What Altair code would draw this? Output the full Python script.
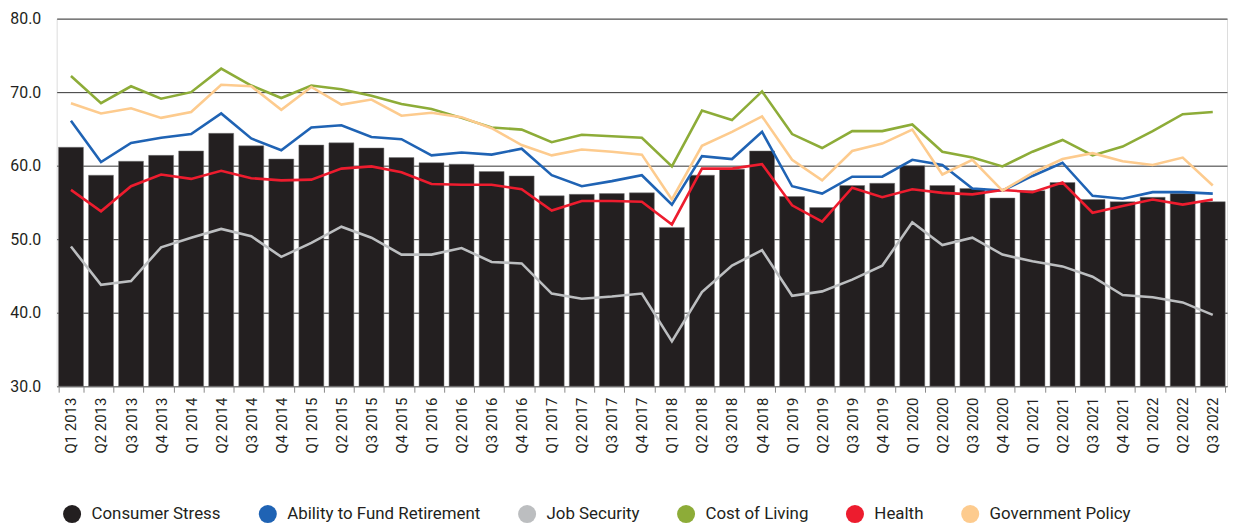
import altair as alt
import pandas as pd

quarters = [
    "Q1 2013", "Q2 2013", "Q3 2013", "Q4 2013",
    "Q1 2014", "Q2 2014", "Q3 2014", "Q4 2014",
    "Q1 2015", "Q2 2015", "Q3 2015", "Q4 2015",
    "Q1 2016", "Q2 2016", "Q3 2016", "Q4 2016",
    "Q1 2017", "Q2 2017", "Q3 2017", "Q4 2017",
    "Q1 2018", "Q2 2018", "Q3 2018", "Q4 2018",
    "Q1 2019", "Q2 2019", "Q3 2019", "Q4 2019",
    "Q1 2020", "Q2 2020", "Q3 2020", "Q4 2020",
    "Q1 2021", "Q2 2021", "Q3 2021", "Q4 2021",
    "Q1 2022", "Q2 2022", "Q3 2022",
]

consumer_stress = [62.5, 58.7, 60.6, 61.4, 62.0, 64.4, 62.7, 60.9, 62.8, 63.1, 62.4, 61.1,
                   60.4, 60.2, 59.2, 58.6, 55.9, 56.1, 56.2, 56.3, 51.6, 58.7, 59.5, 62.0,
                   55.8, 54.3, 57.3, 57.6, 60.0, 57.3, 56.9, 55.6, 56.6, 57.7, 55.4, 55.1,
                   55.7, 56.2, 55.1]
retirement = [66.1, 60.5, 63.1, 63.8, 64.3, 67.1, 63.7, 62.1, 65.2, 65.5, 63.9, 63.6,
              61.4, 61.8, 61.5, 62.3, 58.7, 57.2, 57.9, 58.7, 54.7, 61.3, 60.9, 64.6,
              57.2, 56.2, 58.5, 58.5, 60.8, 60.1, 56.9, 56.6, 58.6, 60.4, 55.9, 55.5,
              56.4, 56.4, 56.2]
job_security = [49.0, 43.8, 44.3, 48.9, 50.2, 51.4, 50.4, 47.6, 49.5, 51.7, 50.2, 47.9,
                47.9, 48.8, 46.9, 46.7, 42.6, 41.9, 42.2, 42.6, 36.1, 42.8, 46.4, 48.5,
                42.3, 42.9, 44.5, 46.4, 52.3, 49.2, 50.2, 47.9, 47.0, 46.3, 44.9, 42.4,
                42.1, 41.4, 39.7]
cost_of_living = [72.2, 68.5, 70.8, 69.1, 70.0, 73.2, 70.9, 69.2, 70.9, 70.4, 69.5, 68.4,
                  67.7, 66.5, 65.2, 64.9, 63.2, 64.2, 64.0, 63.8, 59.9, 67.5, 66.2, 70.1,
                  64.3, 62.4, 64.7, 64.7, 65.6, 61.9, 61.1, 59.9, 61.9, 63.5, 61.4, 62.6,
                  64.7, 67.0, 67.3]
health = [56.7, 53.8, 57.2, 58.8, 58.2, 59.3, 58.3, 58.0, 58.1, 59.6, 59.9, 59.1,
          57.5, 57.4, 57.4, 56.8, 53.9, 55.2, 55.2, 55.1, 52.0, 59.6, 59.6, 60.2,
          54.6, 52.4, 57.0, 55.7, 56.8, 56.3, 56.1, 56.7, 56.4, 57.7, 53.6, 54.5,
          55.4, 54.7, 55.4]
government_policy = [68.5, 67.1, 67.8, 66.5, 67.3, 71.0, 70.8, 67.6, 70.7, 68.3, 69.0, 66.8,
                     67.2, 66.6, 65.1, 62.8, 61.4, 62.2, 61.9, 61.5, 55.4, 62.7, 64.6, 66.7,
                     60.8, 58.0, 62.0, 63.0, 64.9, 58.8, 60.8, 56.6, 59.0, 60.9, 61.7, 60.6,
                     60.1, 61.1, 57.3]

series_names = ["Consumer Stress", "Ability to Fund Retirement", "Job Security",
                "Cost of Living", "Health", "Government Policy"]
series_colors = ["#231f20", "#1f63b4", "#bcbec0", "#8dac38", "#ed1c2e", "#fdcb8e"]

bar_df = pd.DataFrame({"quarter": quarters, "value": consumer_stress,
                       "series": "Consumer Stress"})
line_series = {
    "Ability to Fund Retirement": retirement,
    "Job Security": job_security,
    "Cost of Living": cost_of_living,
    "Health": health,
    "Government Policy": government_policy,
}
line_df = pd.concat([
    pd.DataFrame({"quarter": quarters, "value": vals, "series": name,
                  "order": series_names.index(name)})
    for name, vals in line_series.items()
])

FONT = "Roboto"

x_enc = alt.X(
    "quarter:N", sort=quarters, title=None,
    scale=alt.Scale(paddingInner=0.17, paddingOuter=0.06),
    axis=alt.Axis(labelAngle=270, labelFontSize=15, labelColor="#231f20",
                  labelPadding=5, tickBand="extent", tickSize=6, tickColor="#888888",
                  domainColor="#888888", grid=False, labelFont=FONT),
)
y_enc = alt.Y(
    "value:Q", title=None,
    scale=alt.Scale(domain=[30, 80], zero=False, nice=False),
    axis=alt.Axis(values=[30, 40, 50, 60, 70, 80], format=".1f", labelFontSize=16,
                  labelColor="#231f20", labelPadding=16, ticks=False, domain=False,
                  grid=True, gridColor="#333333", gridWidth=1, labelFont=FONT),
)
color_enc = alt.Color(
    "series:N",
    scale=alt.Scale(domain=series_names, range=series_colors),
    legend=alt.Legend(orient="none", legendX=6, legendY=489, direction="horizontal",
                      title=None, symbolType="circle", symbolSize=330,
                      symbolStrokeWidth=0, labelFontSize=17, labelFont=FONT,
                      labelColor="#231f20", columnPadding=37, labelOffset=10,
                      columns=6, labelLimit=0),
)

bars = alt.Chart(bar_df).mark_bar(stroke="#777777", strokeWidth=0.5).encode(
    x=x_enc, y=y_enc, y2=alt.datum(30), color=color_enc,
)
lines = alt.Chart(line_df).mark_line(strokeWidth=2.6).encode(
    x=x_enc, y=alt.Y("value:Q"), color=alt.Color("series:N"), order="order:Q",
    detail="series:N",
)

chart = alt.layer(bars, lines).properties(
    width=1178, height=370,
    autosize=alt.AutoSizeParams(type="none"),
    padding={"left": 49, "top": 9, "right": 5, "bottom": 140},
).configure_view(stroke=None).configure(font=FONT)

chart.save("out.html", embed_options={"renderer": "svg", "actions": False})
